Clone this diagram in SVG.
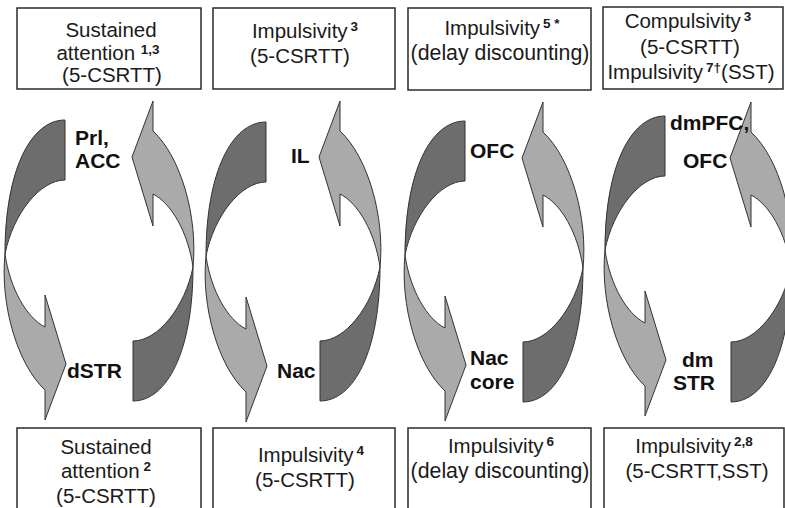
<svg xmlns="http://www.w3.org/2000/svg" xmlns:xlink="http://www.w3.org/1999/xlink" width="785" height="508" viewBox="0 0 785 508">
<style>
.box{fill:#fff;stroke:#2a2a2a;stroke-width:1.5}
.bt{font-family:"Liberation Sans",Arial,sans-serif;font-size:20.5px;fill:#1a1a1a;text-anchor:middle}
.wide{font-size:21.3px}
.sup{font-size:13.5px;font-weight:bold}
.lbl{font-family:"Liberation Sans",Arial,sans-serif;font-size:21px;font-weight:bold;fill:#111}
.dk{fill:#6d6d6d;stroke:#333;stroke-width:1}
.lt{fill:#aaaaaa;stroke:#333;stroke-width:1}
</style>
<defs>
<g id="arrA">
<path class="dk" d="M60,-134 C26,-134 0,-84 0,0 C8,-40 35,-74 60,-74 Z"/>
<path class="lt" d="M0,0 C-5,50 12,110 40,136 L40,166 L61,110 L40,41 L40,73 C22,64 5,35 0,0 Z"/>
</g>
</defs>
<rect width="785" height="508" fill="#fff"/>
<g id="connectors">
<use xlink:href="#arrA" transform="translate(5,254)"/>
<use xlink:href="#arrA" transform="translate(193,267) rotate(180)"/>
<use xlink:href="#arrA" transform="translate(206,256)"/>
<use xlink:href="#arrA" transform="translate(380,267) rotate(180)"/>
<use xlink:href="#arrA" transform="translate(405,255)"/>
<use xlink:href="#arrA" transform="translate(583,268) rotate(180)"/>
<use xlink:href="#arrA" transform="translate(605,250)"/>
<use xlink:href="#arrA" transform="translate(791,268) rotate(180)"/>
</g>
<g id="top1"><rect class="box" x="17" y="8" width="184" height="81"/>
<text class="bt" x="111" y="37">Sustained</text>
<text class="bt" x="108" y="60">attention <tspan class="sup" dy="-6">1,3</tspan></text>
<text class="bt" x="112" y="82">(5-CSRTT)</text></g>
<g id="top2"><rect class="box" x="213" y="8" width="182" height="81"/>
<text class="bt" x="305" y="38">Impulsivity<tspan class="sup" dx="3" dy="-7">3</tspan></text>
<text class="bt" x="300" y="63">(5-CSRTT)</text></g>
<g id="top3"><rect class="box" x="408" y="8" width="183" height="82"/>
<text class="bt" x="502" y="35">Impulsivity<tspan class="sup" dx="3" dy="-7">5 *</tspan></text>
<text class="bt wide" x="500" y="60">(delay discounting)</text></g>
<g id="top4"><rect class="box" x="603" y="7" width="180" height="82"/>
<text class="bt" x="688" y="28">Compulsivity<tspan class="sup" dx="3" dy="-7">3</tspan></text>
<text class="bt" x="690" y="54">(5-CSRTT)</text>
<text class="bt" x="691" y="79">Impulsivity<tspan class="sup" dx="3" dy="-7">7†</tspan><tspan dy="7">(SST)</tspan></text></g>
<g id="bot1"><rect class="box" x="17" y="428" width="184" height="90"/>
<text class="bt" x="106" y="454">Sustained</text>
<text class="bt" x="106" y="478">attention<tspan class="sup" dx="4" dy="-7">2</tspan></text>
<text class="bt" x="106" y="503">(5-CSRTT)</text></g>
<g id="bot2"><rect class="box" x="213" y="428" width="182" height="90"/>
<text class="bt" x="311" y="462">Impulsivity<tspan class="sup" dx="3" dy="-7">4</tspan></text>
<text class="bt" x="305" y="487">(5-CSRTT)</text></g>
<g id="bot3"><rect class="box" x="408" y="428" width="183" height="90"/>
<text class="bt" x="501" y="453">Impulsivity<tspan class="sup" dx="3" dy="-7">6</tspan></text>
<text class="bt wide" x="500" y="478">(delay discounting)</text></g>
<g id="bot4"><rect class="box" x="604" y="428" width="180" height="90"/>
<text class="bt" x="694" y="453">Impulsivity<tspan class="sup" dx="3" dy="-7">2,8</tspan></text>
<text class="bt" x="697" y="478">(5-CSRTT,SST)</text></g>
<g id="lbl1"><text class="lbl" x="75" y="145">Prl,</text><text class="lbl" x="75" y="168">ACC</text></g>
<g id="lbl2"><text class="lbl" x="67" y="378">dSTR</text></g>
<g id="lbl3"><text class="lbl" x="291" y="163">IL</text></g>
<g id="lbl4"><text class="lbl" x="277" y="378">Nac</text></g>
<g id="lbl5"><text class="lbl" x="470" y="158">OFC</text></g>
<g id="lbl6"><text class="lbl" x="470" y="365">Nac</text><text class="lbl" x="470" y="389">core</text></g>
<g id="lbl7"><text class="lbl" x="670" y="130">dmPFC,</text><text class="lbl" x="683" y="168">OFC</text></g>
<g id="lbl8"><text class="lbl" x="682" y="367">dm</text><text class="lbl" x="673" y="390">STR</text></g>
</svg>
